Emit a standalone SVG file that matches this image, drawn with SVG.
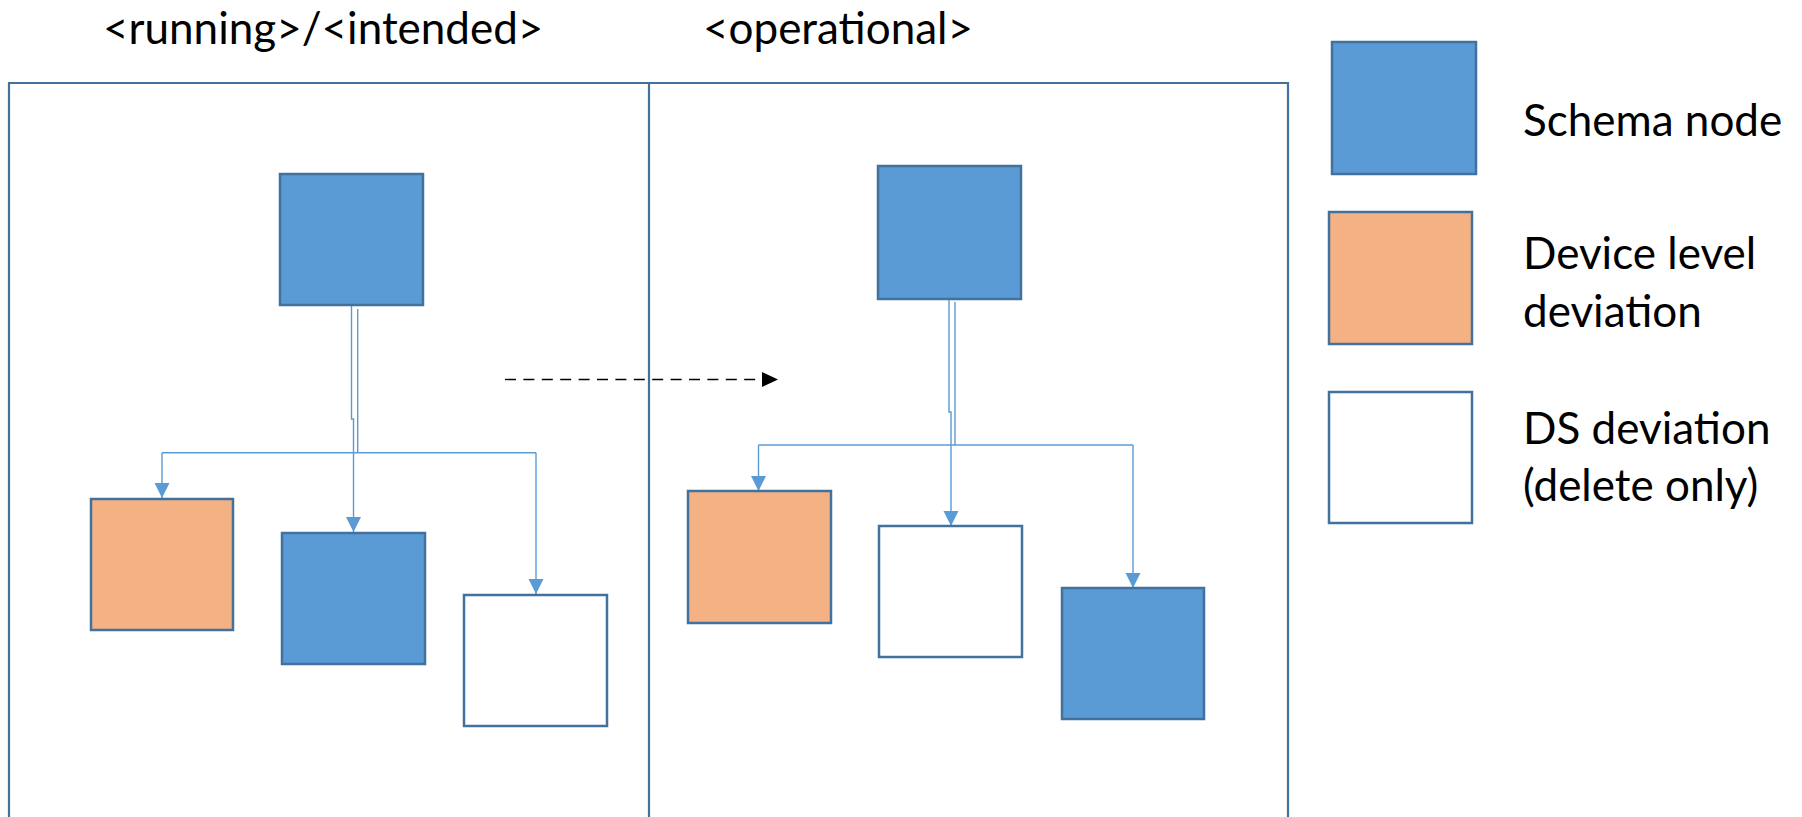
<svg xmlns="http://www.w3.org/2000/svg" width="1802" height="817" viewBox="0 0 1802 817">
<style>
  .panel { fill: none; stroke: #41719C; stroke-width: 2.2; }
  .schema { fill: #5B9BD5; stroke: #41719C; stroke-width: 2.5; }
  .device { fill: #F4B183; stroke: #41719C; stroke-width: 2.5; }
  .ds { fill: #FFFFFF; stroke: #41719C; stroke-width: 2.5; }
  .edge { fill: none; stroke: #5B9BD5; stroke-width: 1.4; }
  .label { font-family: Lato, "Liberation Sans", sans-serif; font-size: 44px; fill: #000000; }
</style>
<defs>
  <marker id="arr" markerUnits="userSpaceOnUse" markerWidth="16" markerHeight="16" viewBox="0 0 16 16" refX="15" refY="8" orient="auto">
    <path d="M0,0.5 L15,8 L0,15.5 Z" fill="#5B9BD5"/>
  </marker>
  <marker id="blk" markerUnits="userSpaceOnUse" markerWidth="17" markerHeight="16" viewBox="0 0 17 16" refX="16" refY="8" orient="auto">
    <path d="M0,0.5 L16,8 L0,15.5 Z" fill="#000000"/>
  </marker>
</defs>

<g id="titles">
  <text class="label" x="103" y="44">&lt;running&gt;/&lt;intended&gt;</text>
  <text class="label" x="703" y="44">&lt;operational&gt;</text>
</g>

<g id="panels">
  <path class="panel" d="M9,830 L9,83 L649,83 L649,830"/>
  <path class="panel" d="M649,83 L1288,83 L1288,830"/>
</g>

<g id="connectors">
  <!-- left panel -->
  <path class="edge" d="M351.5,305 L351.5,419 L353.5,419 L353.5,532" marker-end="url(#arr)"/>
  <path class="edge" d="M357.7,309 L357.7,452.7"/>
  <path class="edge" d="M162,452.7 L536,452.7"/>
  <path class="edge" d="M162,452.7 L162,498" marker-end="url(#arr)"/>
  <path class="edge" d="M536,452.7 L536,594" marker-end="url(#arr)"/>
  <!-- right panel -->
  <path class="edge" d="M949,299 L949,412 L951,412 L951,526" marker-end="url(#arr)"/>
  <path class="edge" d="M955,302 L955,445"/>
  <path class="edge" d="M758.5,445 L1133,445"/>
  <path class="edge" d="M758.5,445 L758.5,491" marker-end="url(#arr)"/>
  <path class="edge" d="M1133,445 L1133,588" marker-end="url(#arr)"/>
  <!-- dashed transition -->
  <path d="M505,379.5 L778,379.5" fill="none" stroke="#000000" stroke-width="1.4" stroke-dasharray="11,7.4" marker-end="url(#blk)"/>
</g>

<g id="left-root"><rect class="schema" x="280" y="174" width="143" height="131"/></g>
<g id="left-device"><rect class="device" x="91" y="499" width="142" height="131"/></g>
<g id="left-schema"><rect class="schema" x="282" y="533" width="143" height="131"/></g>
<g id="left-ds"><rect class="ds" x="464" y="595" width="143" height="131"/></g>

<g id="right-root"><rect class="schema" x="878" y="166" width="143" height="133"/></g>
<g id="right-device"><rect class="device" x="688" y="491" width="143" height="132"/></g>
<g id="right-ds"><rect class="ds" x="879" y="526" width="143" height="131"/></g>
<g id="right-schema"><rect class="schema" x="1062" y="588" width="142" height="131"/></g>

<g id="legend-schema">
  <rect class="schema" x="1332" y="42" width="144" height="132"/>
  <text class="label" x="1523" y="136">Schema node</text>
</g>
<g id="legend-device">
  <rect class="device" x="1329" y="212" width="143" height="132"/>
  <text class="label" x="1523" y="269">Device level</text>
  <text class="label" x="1523" y="327">deviation</text>
</g>
<g id="legend-ds">
  <rect class="ds" x="1329" y="392" width="143" height="131"/>
  <text class="label" x="1523" y="444">DS deviation</text>
  <text class="label" x="1523" y="501">(delete only)</text>
</g>
</svg>
